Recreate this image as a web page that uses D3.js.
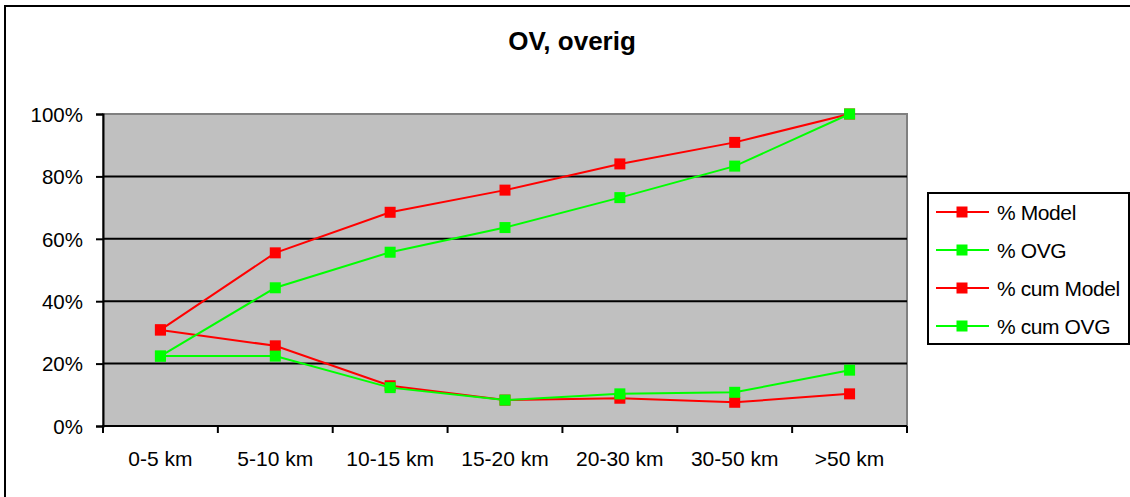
<!DOCTYPE html>
<html><head><meta charset="utf-8">
<script src="https://cdn.jsdelivr.net/npm/d3@7/dist/d3.min.js"></script>
<style>body{margin:0;background:#fff}svg{display:block}text{font-family:"Liberation Sans",Arial,sans-serif}</style>
</head><body>
<svg id="c" width="1130" height="497"></svg>
<script>
const categories = ["0-5 km","5-10 km","10-15 km","15-20 km","20-30 km","30-50 km",">50 km"];
const pctModel    = [30.8, 25.7, 12.9, 8.3, 8.9, 7.6, 10.3];
const pctOVG      = [22.4, 22.4, 12.3, 8.3, 10.3, 10.8, 17.9];
const cumModel    = [30.8, 55.5, 68.5, 75.6, 84.0, 90.9, 100];
const cumOVG      = [22.4, 44.3, 55.7, 63.6, 73.2, 83.3, 100];
const yTicks      = [0, 20, 40, 60, 80, 100];
const seriesNames = ["% Model", "% OVG", "% cum Model", "% cum OVG"];
const seriesColors = ["#FF0000", "#00FF00", "#FF0000", "#00FF00"];
const seriesData = [pctModel, pctOVG, cumModel, cumOVG];

const svg = d3.select("#c");
const L = 103, R = 907, T = 114, B = 426;

// outer frame (top & left visible)
svg.append("rect").attr("x",5).attr("y",6).attr("width",1200).attr("height",600)
  .attr("fill","none").attr("stroke","#000").attr("stroke-width",2);

svg.append("text").attr("x",572).attr("y",50).attr("text-anchor","middle")
  .attr("font-size",26).attr("font-weight","bold").text("OV, overig");

const x = d3.scaleBand().domain(categories).range([L,R]).paddingInner(0).paddingOuter(0);
const y = d3.scaleLinear().domain([0,100]).range([B,T]);

svg.append("rect").attr("x",L).attr("y",T).attr("width",R-L).attr("height",B-T)
  .attr("fill","#C0C0C0").attr("stroke","#808080").attr("stroke-width",2);

// gridlines
svg.append("g").selectAll("line").data(yTicks.filter(d=>d>0 && d<100)).join("line")
  .attr("x1",L).attr("x2",R).attr("y1",d=>y(d)).attr("y2",d=>y(d))
  .attr("stroke","#000").attr("stroke-width",2);

// y axis
const yAxis = d3.axisLeft(y).tickValues(yTicks).tickFormat(d=>d+"%").tickSize(7).tickPadding(13);
const gy = svg.append("g").attr("transform",`translate(${L},0)`).call(yAxis);
gy.select(".domain").attr("stroke","#000").attr("stroke-width",2);
gy.selectAll(".tick line").attr("stroke","#000").attr("stroke-width",2);
gy.selectAll(".tick text").attr("font-size",20.5).attr("fill","#000").attr("dy","0.36em");

// x axis
const gx = svg.append("g").attr("transform",`translate(0,${B})`);
gx.append("line").attr("x1",L-1).attr("x2",R).attr("y1",0).attr("y2",0).attr("stroke","#000").attr("stroke-width",2);
const bounds = categories.map(c=>x(c)).concat([R]);
gx.selectAll("line.tk").data(bounds).join("line").attr("class","tk")
  .attr("x1",d=>d).attr("x2",d=>d).attr("y1",0).attr("y2",7).attr("stroke","#000").attr("stroke-width",2);
gx.selectAll("text").data(categories).join("text")
  .attr("x",d=>x(d)+x.bandwidth()/2).attr("y",40).attr("text-anchor","middle")
  .attr("font-size",21).attr("fill","#000").text(d=>d);

// series
const line = d3.line().x((d,i)=>x(categories[i])+x.bandwidth()/2).y(d=>y(d));
const ms = 11;
seriesData.forEach((data,si)=>{
  const g = svg.append("g");
  g.append("path").datum(data).attr("d",line).attr("fill","none")
    .attr("stroke",seriesColors[si]).attr("stroke-width",2);
  g.selectAll("rect").data(data).join("rect")
    .attr("x",(d,i)=>x(categories[i])+x.bandwidth()/2-ms/2).attr("y",d=>y(d)-ms/2)
    .attr("width",ms).attr("height",ms).attr("fill",seriesColors[si]);
});

// legend
const lg = svg.append("g");
lg.append("rect").attr("x",928).attr("y",193).attr("width",201).attr("height",151)
  .attr("fill","#fff").attr("stroke","#000").attr("stroke-width",2);
const rowY = d3.scalePoint().domain(seriesNames).range([212,326]);
seriesNames.forEach((n,i)=>{
  const yy = rowY(n);
  lg.append("line").attr("x1",936).attr("x2",989).attr("y1",yy).attr("y2",yy)
    .attr("stroke",seriesColors[i]).attr("stroke-width",2);
  lg.append("rect").attr("x",962-ms/2).attr("y",yy-ms/2).attr("width",ms).attr("height",ms).attr("fill",seriesColors[i]);
  lg.append("text").attr("x",997).attr("y",yy).attr("dy","0.36em").attr("font-size",21)
    .attr("letter-spacing","-0.4").text(n);
});
</script>
</body></html>
